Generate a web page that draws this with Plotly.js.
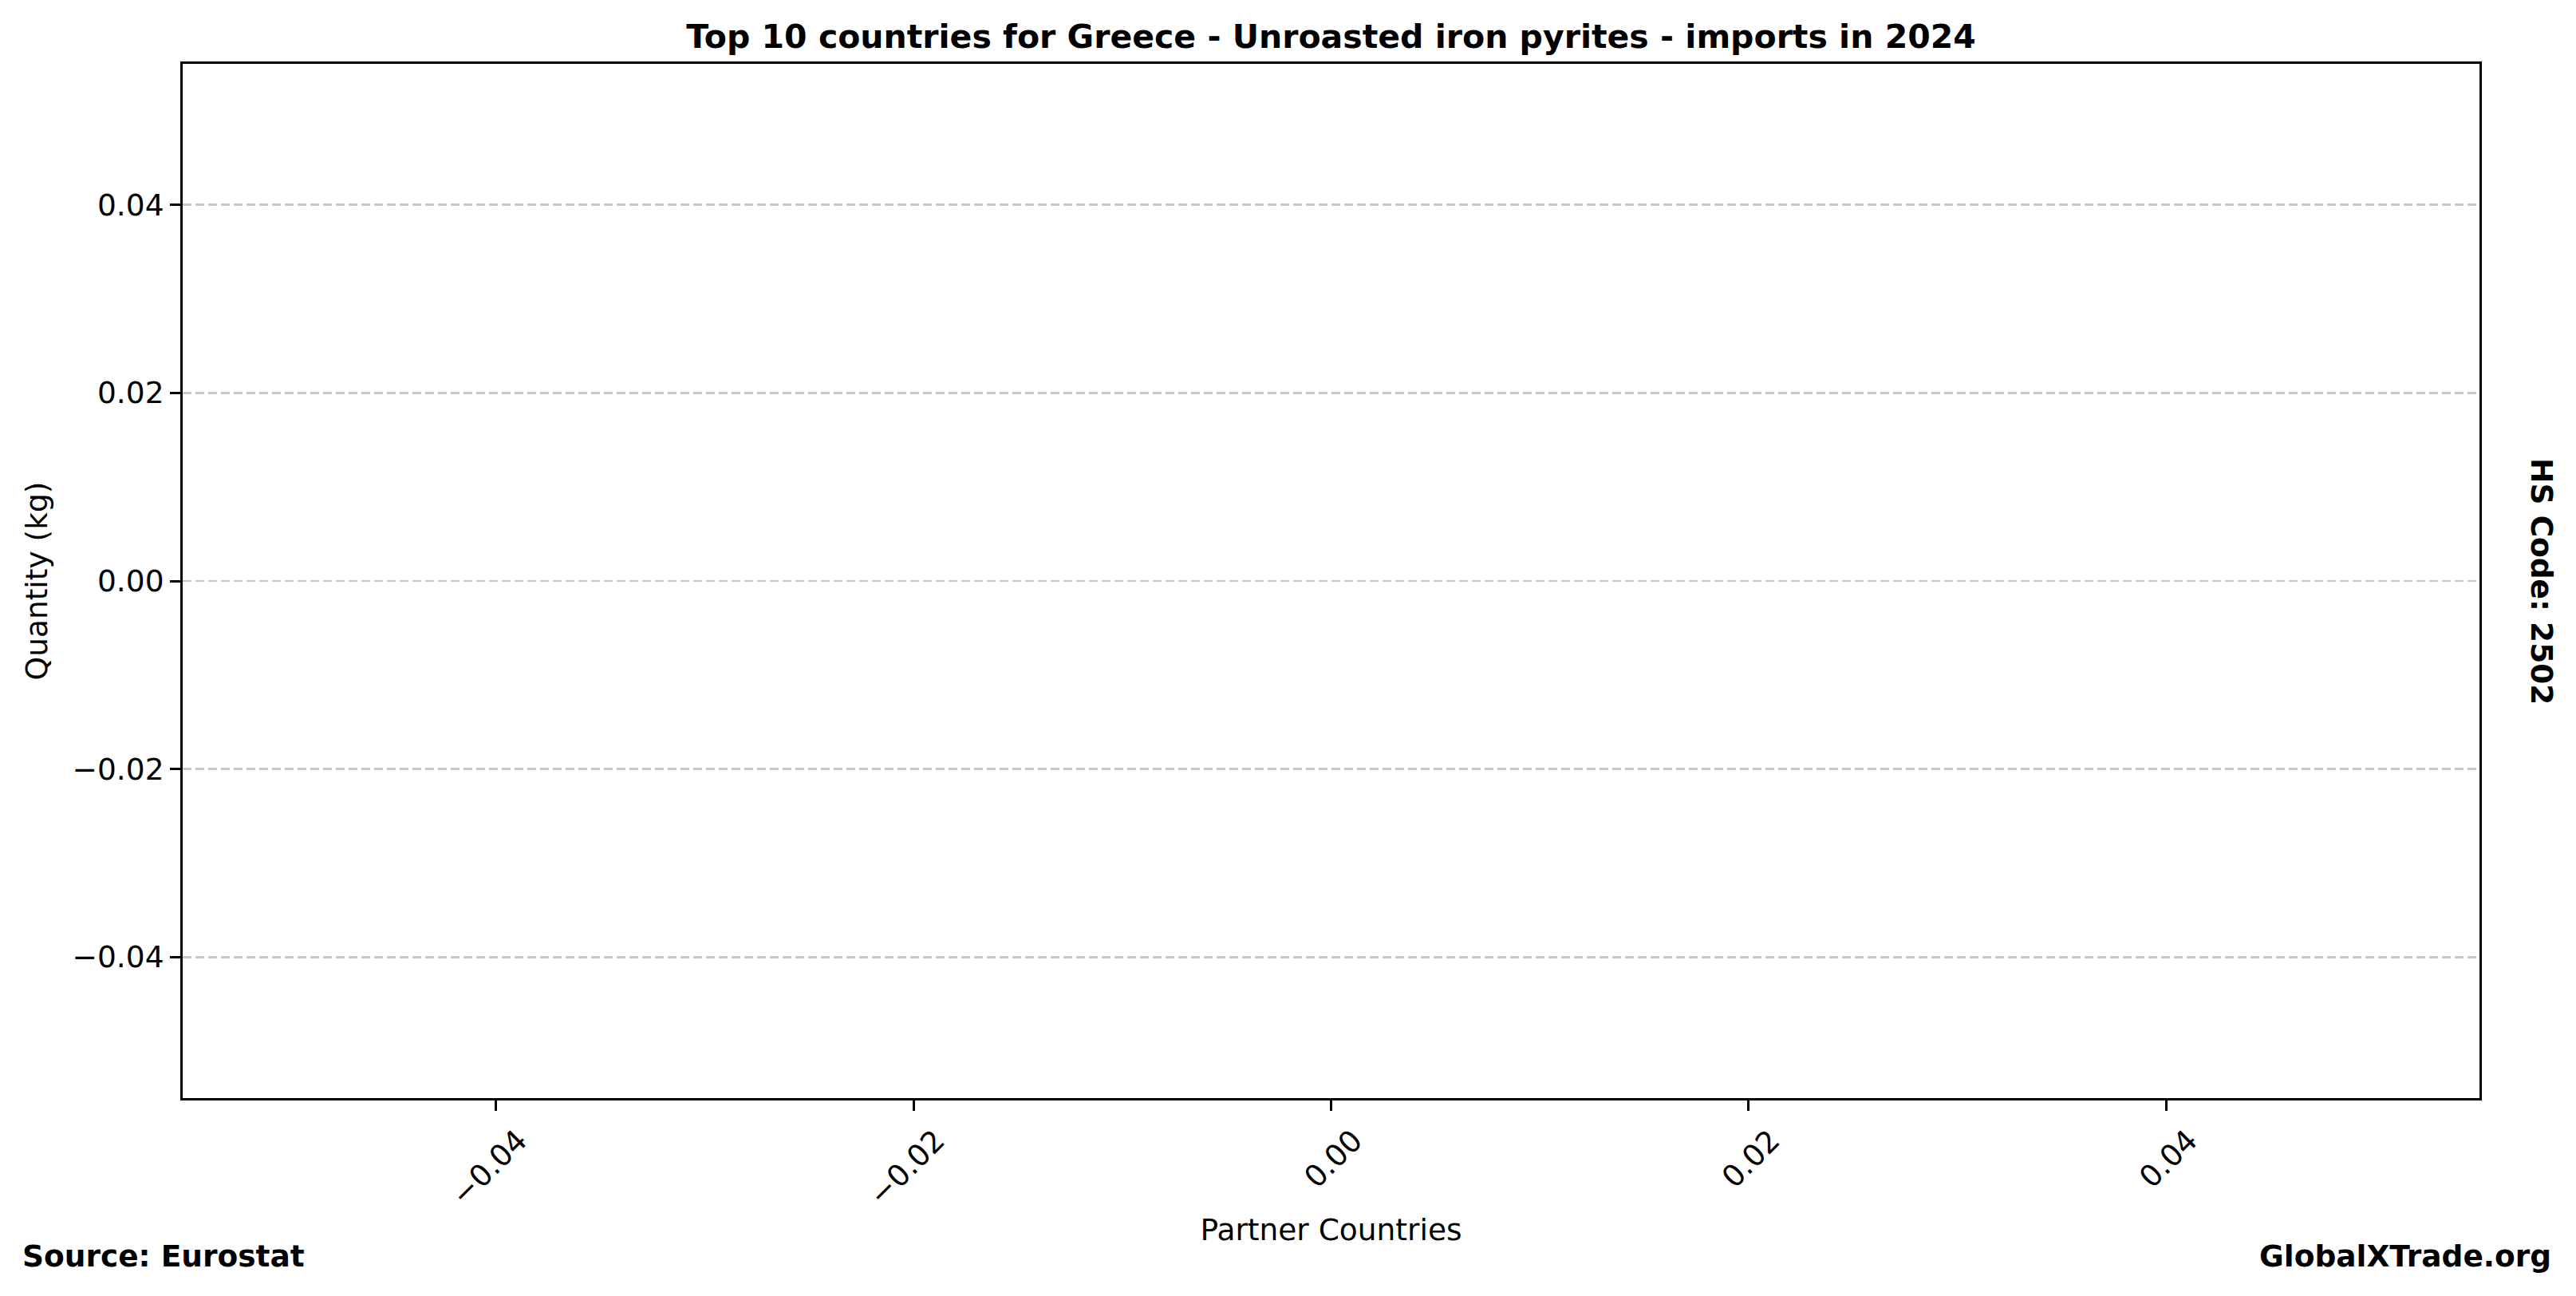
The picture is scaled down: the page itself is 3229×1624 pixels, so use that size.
<!DOCTYPE html>
<html>
<head>
<meta charset="utf-8">
<script src="https://cdn.plot.ly/plotly-3.0.1.min.js"></script>
<style>
  html, body { margin: 0; padding: 0; background: #ffffff; }
  #chart { width: 3229px; height: 1624px; }
</style>
</head>
<body>
<div id="chart"></div>
<script>
// Data: the reference chart is empty (no partner countries reported)
const countries = [];
const quantities = [];

// Axis ticks as drawn by the reference (matplotlib defaults for an empty axis)
const xRange = [-0.055, 0.055];
const yRange = [-0.055, 0.055];
const xTickVals = [-0.04, -0.02, 0.00, 0.02, 0.04];
const xTickText = ["\u22120.04", "\u22120.02", "0.00", "0.02", "0.04"];
const yTickVals = [-0.04, -0.02, 0.00, 0.02, 0.04];
const yTickText = ["\u22120.04", "\u22120.02", "0.00", "0.02", "0.04"];

const titleText = "Top 10 countries for Greece - Unroasted iron pyrites - imports in 2024";
const xTitle = "Partner Countries";
const yTitle = "Quantity (kg)";
const sourceText = "Source: Eurostat";
const siteText = "GlobalXTrade.org";
const hsText = "HS Code: 2502";

const FONT = "DejaVu Sans, Verdana, sans-serif";
const W = 3229, H = 1624;
const L = 229, R = 121, T = 80, B = 248;
const plotW = W - L - R, plotH = H - T - B;
const px2paperX = p => (p - L) / plotW;
const px2paperY = p => (H - B - p) / plotH;

const data = [{
  type: 'bar',
  x: countries,
  y: quantities,
  marker: { color: '#4c72b0' },
  showlegend: false
}];

const layout = {
  width: W,
  height: H,
  margin: { l: L, r: R, t: T, b: B, pad: 0 },
  paper_bgcolor: '#ffffff',
  plot_bgcolor: '#ffffff',
  font: { family: FONT, size: 37.5, color: '#000000' },
  showlegend: false,
  title: {
    text: '<b>' + titleText + '</b>',
    font: { family: FONT, size: 41, color: '#000000' },
    x: 0.5, xref: 'paper', xanchor: 'center',
    y: 1 - 45.6 / H, yref: 'container', yanchor: 'middle'
  },
  xaxis: {
    range: xRange,
    autorange: false,
    tickmode: 'array',
    tickvals: xTickVals,
    ticktext: xTickText,
    tickangle: -45,
    tickfont: { family: FONT, size: 37.5, color: '#000000' },
    ticks: 'outside',
    ticklen: 13,
    tickwidth: 3,
    tickcolor: '#000000',
    ticklabelshift: 28,
    showline: true,
    linecolor: '#000000',
    linewidth: 3,
    mirror: true,
    showgrid: false,
    zeroline: false,
    automargin: false,
    title: {
      text: xTitle,
      font: { family: FONT, size: 37.5, color: '#000000' },
      standoff: 10
    }
  },
  yaxis: {
    range: yRange,
    autorange: false,
    tickmode: 'array',
    tickvals: yTickVals,
    ticktext: yTickText,
    tickfont: { family: FONT, size: 37.5, color: '#000000' },
    ticks: 'outside',
    ticklen: 13,
    tickwidth: 3,
    tickcolor: '#000000',
    showline: true,
    linecolor: '#000000',
    linewidth: 3,
    mirror: true,
    showgrid: true,
    gridcolor: '#c8c8c8',
    gridwidth: 2.5,
    griddash: '11px,5px',
    zeroline: false,
    automargin: false,
    title: {
      text: yTitle,
      font: { family: FONT, size: 37.5, color: '#000000' },
      standoff: 20
    }
  },
  annotations: [
    {
      text: '<b>' + sourceText + '</b>',
      xref: 'paper', yref: 'paper',
      x: px2paperX(26), y: px2paperY(1574),
      xanchor: 'left', yanchor: 'middle',
      showarrow: false,
      font: { family: FONT, size: 37.5, color: '#000000' }
    },
    {
      text: '<b>' + siteText + '</b>',
      xref: 'paper', yref: 'paper',
      x: px2paperX(3200), y: px2paperY(1574),
      xanchor: 'right', yanchor: 'middle',
      showarrow: false,
      font: { family: FONT, size: 37.5, color: '#000000' }
    },
    {
      text: '<b>' + hsText + '</b>',
      xref: 'paper', yref: 'paper',
      x: px2paperX(3186), y: 0.5,
      xanchor: 'center', yanchor: 'middle',
      textangle: 90,
      showarrow: false,
      font: { family: FONT, size: 37.5, color: '#000000' }
    }
  ]
};

Plotly.newPlot('chart', data, layout, { staticPlot: true, displayModeBar: false });
</script>
</body>
</html>
